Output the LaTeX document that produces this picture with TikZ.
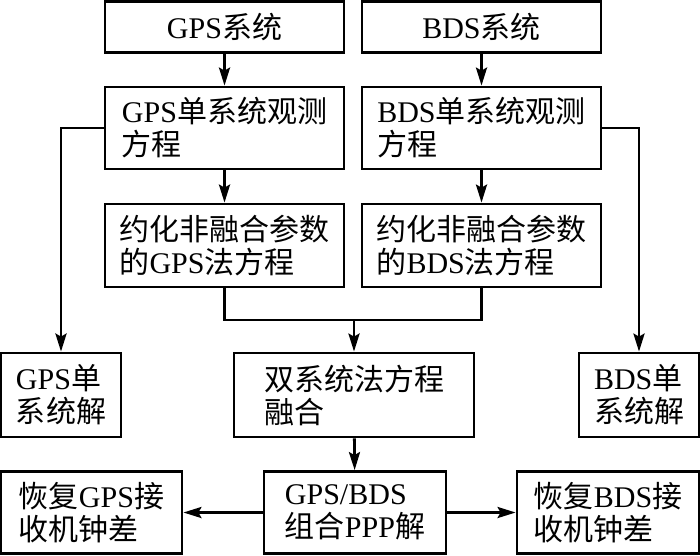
\documentclass[tikz,border=0pt]{standalone}
\usepackage{fontspec}
\setmainfont{Liberation Serif}
\newfontfamily\zhfont{Noto Sans CJK SC}
\newcommand\zh[1]{{\zhfont #1}}
\usetikzlibrary{arrows.meta}

\tikzset{
  flowbox/.style={draw, line width=2.8pt, align=left, inner sep=0pt,
    font=\fontsize{30}{33}\selectfont},
  flowline/.style={line width=2.8pt},
  flowarrow/.style={flowline, -{Stealth[length=18pt,width=11pt,inset=3pt]}}
}

\begin{document}
\begin{tikzpicture}[x=1pt,y=-1pt]
\useasboundingbox (0,0) rectangle (700,555);

% upper row: the two systems
\node[flowbox, minimum width=239pt, minimum height=51pt] (gps) at (224.5,27) {GPS\zh{系统}};
\node[flowbox, minimum width=239pt, minimum height=51pt] (bds) at (481.5,27) {BDS\zh{系统}};

\node[flowbox, minimum width=239pt, minimum height=82pt] (gpsobs) at (224.5,128) {GPS\zh{单系统观测}\\\zh{方程}};
\node[flowbox, minimum width=239pt, minimum height=82pt] (bdsobs) at (481.5,128) {BDS\zh{单系统观测}\\\zh{方程}};

\node[flowbox, minimum width=239pt, minimum height=83pt] (gpsneq) at (224.5,245.5) {\zh{约化非融合参数}\\\zh{的}GPS\zh{法方程}};
\node[flowbox, minimum width=239pt, minimum height=83pt] (bdsneq) at (481.5,245.5) {\zh{约化非融合参数}\\\zh{的}BDS\zh{法方程}};

% middle row
\node[flowbox, minimum width=120pt, minimum height=84pt] (gpssol) at (61,395) {GPS\zh{单}\\\zh{系统解}};
\node[flowbox, minimum width=240pt, minimum height=84pt] (fuse) at (354,395) {\zh{双系统法方程}\\\zh{融合}};
\node[flowbox, minimum width=120pt, minimum height=84pt] (bdssol) at (639,395) {BDS\zh{单}\\\zh{系统解}};

% lower row
\node[flowbox, minimum width=181pt, minimum height=82pt] (gpsclk) at (91.5,512.5) {\zh{恢复}GPS\zh{接}\\\zh{收机钟差}};
\node[flowbox, minimum width=182pt, minimum height=82pt] (ppp) at (355,512.5) {GPS/BDS\\\zh{组合}PPP\zh{解}};
\node[flowbox, minimum width=182pt, minimum height=82pt] (bdsclk) at (608,512.5) {\zh{恢复}BDS\zh{接}\\\zh{收机钟差}};

\coordinate (join) at (fuse.north |- 0,320);

\draw[flowarrow] (gps) -- (gpsobs);
\draw[flowarrow] (bds) -- (bdsobs);
\draw[flowarrow] (gpsobs) -- (gpsneq);
\draw[flowarrow] (bdsobs) -- (bdsneq);
\draw[flowline] (gpsneq.south) |- (join);
\draw[flowline] (bdsneq.south) |- (join);
\draw[flowarrow] (join) -- (fuse.north);
\draw[flowarrow] (gpsobs.west) -| (gpssol.north);
\draw[flowarrow] (bdsobs.east) -| (bdssol.north);
\draw[flowarrow] (fuse) -- (ppp);
\draw[flowarrow] (ppp) -- (gpsclk);
\draw[flowarrow] (ppp) -- (bdsclk);
\end{tikzpicture}
\end{document}
